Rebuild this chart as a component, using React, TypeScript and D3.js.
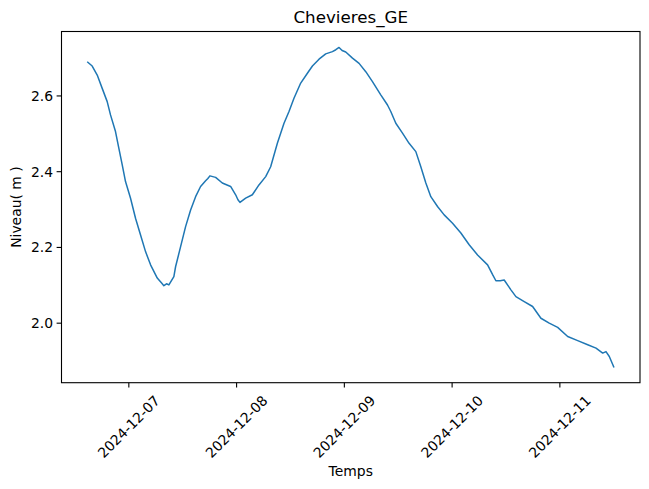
import React, { useEffect, useRef } from "react";
import * as d3 from "d3";

// Hours since 2024-12-06T00:00
const hours = [
  14.86, 15.84, 16.96, 18.07, 19.18, 19.92, 21.03, 21.77, 22.53, 23.26,
  24.38, 25.49, 26.61, 27.72, 28.84, 30.33, 31.3, 31.8, 32.4, 32.92, 34.03, 34.41,
  35.53, 36.64, 37.76, 38.87, 39.98, 41.1, 41.6, 42.06, 43.33, 44.82,
  46.67, 47.79, 48.3, 48.75, 50.02, 51.51, 52.98, 54.48, 55.59, 57.08,
  58.56, 59.67, 60.78, 62.28, 63.77, 64.89, 66.36, 67.85, 69.35, 70.1, 70.82,
  71.5, 72.31, 73.81, 75.28, 76.77, 78.26, 80.11, 81.61, 82.34, 83.46,
  84.95, 86.42, 87.92, 89.03, 90.15, 91.26, 92.75, 94.23, 96.1, 97.95,
  99.8, 101.67, 103.9, 105.02, 105.75, 106.7, 107.6, 109.1, 110.21, 112.06,
  113.93, 115.78, 117.63, 119.51, 121.74, 123.97, 126.2, 128.05, 129.54,
  130.27, 131.01, 131.99,
];
const niveau = [
  2.689, 2.679, 2.655, 2.62, 2.585, 2.55, 2.506, 2.462, 2.418, 2.374,
  2.33, 2.277, 2.233, 2.189, 2.154, 2.119, 2.106, 2.099, 2.104, 2.101, 2.123, 2.149,
  2.202, 2.255, 2.299, 2.334, 2.361, 2.376, 2.382, 2.389, 2.385, 2.37,
  2.361, 2.339, 2.326, 2.319, 2.33, 2.339, 2.365, 2.387, 2.413, 2.475,
  2.528, 2.559, 2.594, 2.634, 2.66, 2.679, 2.697, 2.711, 2.717, 2.722, 2.728,
  2.72, 2.716, 2.7, 2.686, 2.664, 2.638, 2.603, 2.576, 2.559, 2.528,
  2.502, 2.475, 2.453, 2.413, 2.37, 2.334, 2.308, 2.286, 2.264, 2.238,
  2.207, 2.18, 2.154, 2.128, 2.112, 2.112, 2.114, 2.088, 2.07, 2.057,
  2.044, 2.013, 2.0, 1.989, 1.965, 1.954, 1.943, 1.934, 1.921,
  1.925, 1.912, 1.885,
];
const yTicks = [2.0, 2.2, 2.4, 2.6];
const xTickDates = ["2024-12-07", "2024-12-08", "2024-12-09", "2024-12-10", "2024-12-11"];
const title = "Chevieres_GE";
const xLabel = "Temps";
const yLabel = "Niveau( m )";

const W = 649;
const H = 489;
const M = { left: 61.5, right: 640, top: 31.5, bottom: 382.7 };
const FONT = "DejaVu Sans, sans-serif";

export default function App() {
  const ref = useRef<SVGSVGElement | null>(null);

  useEffect(() => {
    const svg = d3.select(ref.current);
    svg.selectAll("*").remove();

    const base = new Date(2024, 11, 6, 0, 0).getTime();
    const data = hours.map((h, i) => ({ t: new Date(base + h * 3600e3), v: niveau[i] }));

    const tExt = d3.extent(data, (d) => d.t.getTime()) as [number, number];
    const tPad = (tExt[1] - tExt[0]) * 0.05;
    const vExt = d3.extent(data, (d) => d.v) as [number, number];
    const vPad = (vExt[1] - vExt[0]) * 0.05;

    const x = d3
      .scaleTime()
      .domain([new Date(tExt[0] - tPad), new Date(tExt[1] + tPad)])
      .range([M.left, M.right]);
    const y = d3
      .scaleLinear()
      .domain([vExt[0] - vPad, vExt[1] + vPad])
      .range([M.bottom, M.top]);

    // line
    const line = d3
      .line<{ t: Date; v: number }>()
      .x((d) => x(d.t))
      .y((d) => y(d.v));
    svg
      .append("path")
      .datum(data)
      .attr("d", line)
      .attr("fill", "none")
      .attr("stroke", "#1f77b4")
      .attr("stroke-width", 1.5)
      .attr("stroke-linejoin", "round")
      .attr("stroke-linecap", "square");

    // frame
    svg
      .append("rect")
      .attr("x", M.left)
      .attr("y", M.top)
      .attr("width", M.right - M.left)
      .attr("height", M.bottom - M.top)
      .attr("fill", "none")
      .attr("stroke", "#000")
      .attr("stroke-width", 1.1);

    // y ticks
    const yg = svg.append("g");
    yTicks.forEach((t) => {
      const yy = y(t);
      yg.append("line")
        .attr("x1", M.left - 4.9)
        .attr("x2", M.left)
        .attr("y1", yy)
        .attr("y2", yy)
        .attr("stroke", "#000")
        .attr("stroke-width", 1.1);
      yg.append("text")
        .attr("x", M.left - 8.5)
        .attr("y", yy)
        .attr("dy", "0.35em")
        .attr("text-anchor", "end")
        .attr("font-family", FONT)
        .attr("font-size", 13.9)
        .text(d3.format(".1f")(t));
    });

    // x ticks
    const xg = svg.append("g");
    xTickDates.forEach((s) => {
      const [yy, mm, dd] = s.split("-").map(Number);
      const xx = x(new Date(yy, mm - 1, dd));
      xg.append("line")
        .attr("x1", xx)
        .attr("x2", xx)
        .attr("y1", M.bottom)
        .attr("y2", M.bottom + 4.9)
        .attr("stroke", "#000")
        .attr("stroke-width", 1.1);
      xg.append("text")
        .attr("transform", `translate(${xx},${M.bottom + 44}) rotate(-45)`)
        .attr("text-anchor", "middle")
        .attr("dy", "0.35em")
        .attr("font-family", FONT)
        .attr("font-size", 13.9)
        .text(s);
    });

    const cx = (M.left + M.right) / 2;
    svg
      .append("text")
      .attr("x", cx)
      .attr("y", 23)
      .attr("text-anchor", "middle")
      .attr("font-family", FONT)
      .attr("font-size", 16.7)
      .text(title);
    svg
      .append("text")
      .attr("x", cx)
      .attr("y", 476)
      .attr("text-anchor", "middle")
      .attr("font-family", FONT)
      .attr("font-size", 13.9)
      .text(xLabel);
    svg
      .append("text")
      .attr("transform", `translate(21,${(M.top + M.bottom) / 2}) rotate(-90)`)
      .attr("text-anchor", "middle")
      .attr("font-family", FONT)
      .attr("font-size", 13.9)
      .text(yLabel);
  }, []);

  return (
    <svg
      ref={ref}
      width={W}
      height={H}
      style={{ position: "absolute", left: 0, top: 0, background: "#fff" }}
    />
  );
}
